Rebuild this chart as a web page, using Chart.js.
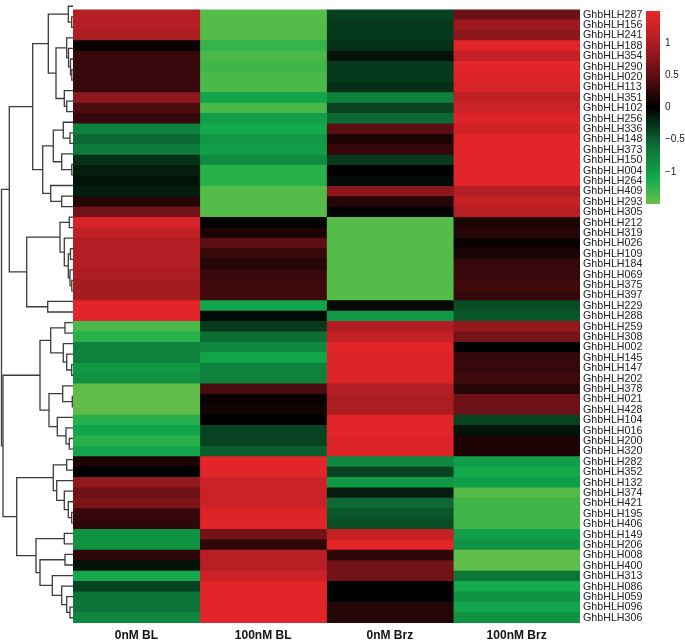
<!DOCTYPE html>
<html>
<head>
<meta charset="utf-8">
<script src="https://cdn.jsdelivr.net/npm/chart.js@4/dist/chart.umd.min.js"></script>
<style>
  body { margin: 0; background: #fff; }
  #wrap { position: relative; width: 685px; height: 640px; overflow: hidden; }
  canvas { position: absolute; top: 0; }
</style>
</head>
<body>
<div id="wrap">
  <canvas id="heat" width="650" height="640" style="left:0"></canvas>
  <canvas id="tree" width="73" height="640" style="left:0"></canvas>
  <canvas id="bar" width="45" height="215" style="left:640px"></canvas>
</div>
<script>
// genes, top to bottom
const GENES = ['GhbHLH287','GhbHLH156','GhbHLH241','GhbHLH188','GhbHLH354','GhbHLH290','GhbHLH020','GhbHLH113','GhbHLH351','GhbHLH102',
  'GhbHLH256','GhbHLH336','GhbHLH148','GhbHLH373','GhbHLH150','GhbHLH004','GhbHLH264','GhbHLH409','GhbHLH293','GhbHLH305',
  'GhbHLH212','GhbHLH319','GhbHLH026','GhbHLH109','GhbHLH184','GhbHLH069','GhbHLH375','GhbHLH397','GhbHLH229','GhbHLH288',
  'GhbHLH259','GhbHLH308','GhbHLH002','GhbHLH145','GhbHLH147','GhbHLH202','GhbHLH378','GhbHLH021','GhbHLH428','GhbHLH104',
  'GhbHLH016','GhbHLH200','GhbHLH320','GhbHLH282','GhbHLH352','GhbHLH132','GhbHLH374','GhbHLH421','GhbHLH195','GhbHLH406',
  'GhbHLH149','GhbHLH206','GhbHLH008','GhbHLH400','GhbHLH313','GhbHLH086','GhbHLH059','GhbHLH096','GhbHLH306'];

const COLS = ['0nM BL', '100nM BL', '0nM Brz', '100nM Brz'];

// z-scores per column
const BL0 = [1.1,1.05,1.0,0.05,0.3,0.3,0.3,0.3,0.8,0.4,
  0.3,-0.75,-0.55,-0.7,-0.25,-0.15,-0.1,-0.15,0.2,0.65,
  1.35,1.15,1.05,1.05,1.05,1.0,0.95,0.95,1.45,1.45,
  -1.35,-1.2,-0.75,-0.75,-0.95,-0.9,-1.45,-1.45,-1.45,-1.2,
  -1.05,-1.2,-1.05,0.15,0.0,0.85,0.6,0.7,0.3,0.25,
  -0.9,-0.9,0.25,-0.1,-1.1,-0.35,-0.65,-0.65,-0.8];
const BL100 = [-1.4,-1.4,-1.4,-1.25,-1.35,-1.3,-1.35,-1.35,-1.05,-1.35,
  -1.0,-1.1,-0.95,-1.0,-0.85,-1.2,-1.2,-1.4,-1.4,-1.4,
  0.0,0.15,0.5,0.3,0.2,0.3,0.35,0.35,-1.05,-0.05,
  -0.3,-0.6,-0.8,-1.05,-0.75,-0.75,0.4,0.05,0.1,0.0,
  -0.35,-0.35,-0.5,1.45,1.45,1.25,1.25,1.25,1.4,1.45,
  0.65,0.25,1.1,1.1,1.25,1.45,1.45,1.45,1.45];
const BRZ0 = [-0.35,-0.3,-0.3,-0.25,-0.1,-0.3,-0.3,-0.25,-0.75,-0.35,
  -0.55,0.5,0.15,0.3,-0.3,0.0,-0.05,0.8,0.2,0.0,
  -1.4,-1.4,-1.4,-1.4,-1.4,-1.4,-1.4,-1.4,-0.05,-0.95,
  1.05,1.2,1.45,1.4,1.4,1.4,1.05,1.0,1.0,1.45,
  1.45,1.4,1.4,-0.8,-0.35,-0.95,-0.15,-0.55,-0.45,-0.4,
  1.2,1.45,0.25,0.65,0.65,0.0,0.0,0.2,0.2];
const BRZ100 = [0.6,0.9,0.8,1.45,1.2,1.45,1.4,1.35,1.15,1.25,
  1.4,1.3,1.45,1.45,1.45,1.45,1.45,1.05,1.2,1.1,
  0.15,0.2,0.05,0.15,0.3,0.3,0.35,0.3,-0.4,-0.45,
  0.85,0.65,0.0,0.3,0.3,0.35,0.2,0.6,0.6,-0.35,
  -0.1,0.15,0.15,-1.0,-1.1,-1.0,-1.4,-1.3,-1.3,-1.3,
  -1.0,-0.9,-1.45,-1.45,-0.65,-1.1,-0.9,-1.05,-0.9];

const SCALE_TICKS = [-1, -0.5, 0, 0.5, 1];

// cluster tree: [height, left, right], leaves = row index
const TREE =
[71.5,
  [63.7,
    [40.3,
      [24.7,
        [4.7, 0, [1.3, 1, 2]],
        [17, [6.3, 3, [4.5, 4, [2.5, 5, [1.2, 6, 7]]]], [8.7, 8, [6.3, 9, 10]]]],
      [30.3,
        [19.7, [9.7, 11, [3, 12, 13]], [11.3, 14, [1.2, 15, 16]]],
        [22.3, 17, [11.3, 18, 19]]]],
    [46.3,
      [13, [3.7, 20, 21], [8.7, 22, [4.7, [2.5, 23, 24], [3, 25, [1.2, 26, 27]]]]],
      [25.3, 28, 29]]],
  [70,
    [33,
      [22.3, [8, 30, 31], [9.7, 32, [6.3, 33, [1.3, 34, 35]]]],
      [24, [10.3, 36, [0.7, 37, 38]], [15.7, 39, [7, 40, [3.7, 41, 42]]]]],
    [56.3,
      [19.7, [6.3, 43, 44], [16.3, 45, [8.7, 46, [4.7, 47, [1.3, 48, 49]]]]],
      [37, [8.7, 50, 51], [33, [8, 52, 53], [20.7, 54, [11.3, 55, [6.3, 56, [3, 57, 58]]]]]]]]];

// colour ramp green -> black -> red
const STOPS = [[-1.5,[108,192,72]],[-1.1,[18,170,76]],[-0.55,[12,105,52]],[0,[0,0,0]],
  [0.5,[92,14,18]],[1.0,[172,29,34]],[1.5,[232,38,42]]];

function colorOf(v) {
  if (v <= STOPS[0][0]) return 'rgb(' + STOPS[0][1].join(',') + ')';
  for (let i = 1; i < STOPS.length; i++) {
    if (v <= STOPS[i][0]) {
      const a = STOPS[i-1], b = STOPS[i];
      const t = (v - a[0]) / (b[0] - a[0]);
      const c = a[1].map((x, k) => Math.round(x + (b[1][k] - x) * t));
      return 'rgb(' + c.join(',') + ')';
    }
  }
  return 'rgb(' + STOPS[STOPS.length-1][1].join(',') + ')';
}

const FONT = "'Liberation Sans', Arial, sans-serif";
const noPlugins = { legend: { display: false }, tooltip: { enabled: false } };

// heatmap
const series = [BL0, BL100, BRZ0, BRZ100];
new Chart(document.getElementById('heat'), {
  type: 'bar',
  data: {
    labels: GENES,
    datasets: series.map((vals, i) => ({
      label: COLS[i],
      data: vals.map(() => 1),
      backgroundColor: vals.map(colorOf),
      borderWidth: 0,
      barPercentage: 1,
      categoryPercentage: 1
    }))
  },
  options: {
    indexAxis: 'y',
    responsive: false,
    animation: false,
    layout: { padding: { left: 73, top: 1, right: 0, bottom: 0 } },
    plugins: noPlugins,
    scales: {
      x: {
        stacked: true, min: 0, max: 4,
        grid: { display: false, drawTicks: false },
        border: { display: false },
        afterBuildTicks: s => { s.ticks = COLS.map((c, i) => ({ value: i + 0.5 })); },
        afterFit: s => { s.height = 17; },
        ticks: {
          padding: 5, autoSkip: false, maxRotation: 0,
          color: '#111', font: { family: FONT, size: 12, weight: 'bold' },
          callback: v => COLS[Math.floor(v)]
        }
      },
      y: {
        stacked: true, position: 'right',
        grid: { display: false, drawTicks: false },
        border: { display: false },
        afterFit: s => { s.width = 70; },
        ticks: { padding: 3, autoSkip: false, color: '#222', font: { family: FONT, size: 10.7 } }
      }
    }
  }
});

// dendrogram
const segs = [];
function walk(n) {
  if (typeof n === 'number') return { y: n, h: 0 };
  const l = walk(n[1]), r = walk(n[2]);
  segs.push([{ x: l.h, y: l.y }, { x: n[0], y: l.y }, { x: n[0], y: r.y }, { x: r.h, y: r.y }]);
  return { y: (l.y + r.y) / 2, h: n[0] };
}
walk(TREE);

new Chart(document.getElementById('tree'), {
  type: 'scatter',
  data: {
    datasets: segs.map(s => ({
      data: s, showLine: true, pointRadius: 0,
      borderColor: '#3c3c3c', borderWidth: 1.3, fill: false
    }))
  },
  options: {
    responsive: false,
    animation: false,
    layout: { padding: { left: 0, right: 0, top: 1, bottom: 17 } },
    plugins: noPlugins,
    scales: {
      x: { display: false, min: 0, max: 73, reverse: true },
      y: { display: false, min: -0.5, max: GENES.length - 0.5, reverse: true }
    }
  }
});

// colour key
new Chart(document.getElementById('bar'), {
  type: 'bar',
  data: {
    labels: [''],
    datasets: [{
      data: [[-1.5, 1.5]],
      barPercentage: 1, categoryPercentage: 1, borderWidth: 0,
      backgroundColor: ctx => {
        const ch = ctx.chart;
        if (!ch.chartArea) return 'black';
        const ys = ch.scales.y;
        const g = ch.ctx.createLinearGradient(0, ys.getPixelForValue(-1.5), 0, ys.getPixelForValue(1.5));
        for (let i = 0; i <= 30; i++) {
          g.addColorStop(i / 30, colorOf(-1.5 + 3 * i / 30));
        }
        return g;
      }
    }]
  },
  options: {
    responsive: false,
    animation: false,
    layout: { padding: { left: 6, top: 1, right: 0, bottom: 10 } },
    plugins: noPlugins,
    scales: {
      x: { display: false },
      y: {
        position: 'right', min: -1.5, max: 1.5,
        grid: { display: false, drawTicks: false },
        border: { display: false },
        afterBuildTicks: s => { s.ticks = SCALE_TICKS.map(v => ({ value: v })); },
        afterFit: s => { s.width = 25; },
        ticks: {
          padding: 5, color: '#222', font: { family: FONT, size: 10 },
          callback: v => String(v).replace('-', '\u2212')
        }
      }
    }
  }
});
</script>
</body>
</html>
